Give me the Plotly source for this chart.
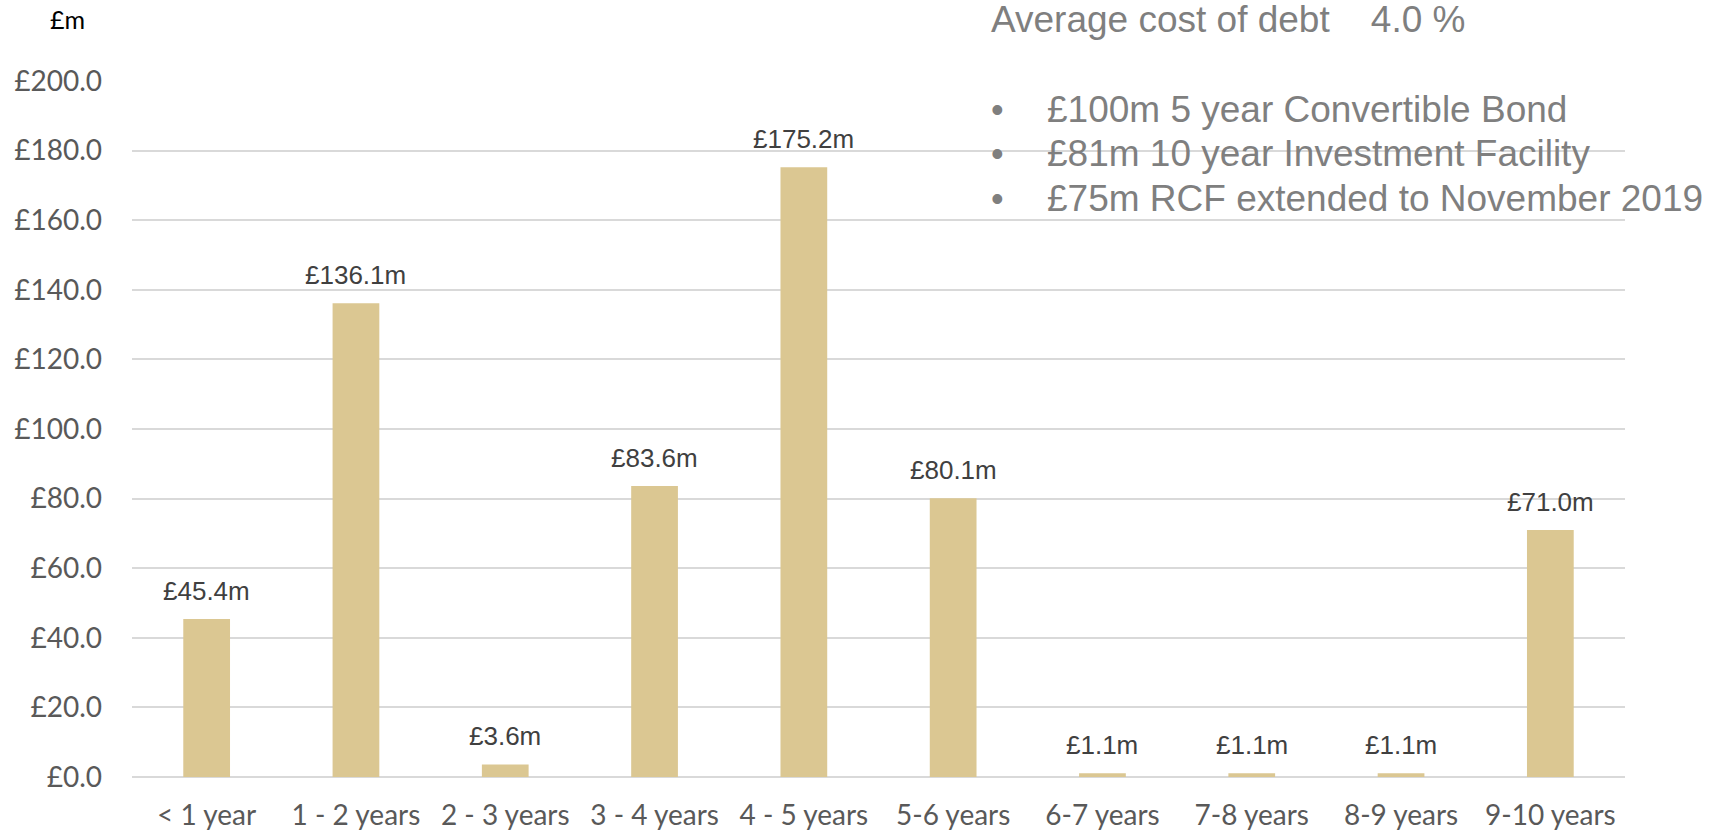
import plotly.graph_objects as go

# Debt maturity profile (£m)
categories = ["< 1 year", "1 - 2 years", "2 - 3 years", "3 - 4 years", "4 - 5 years",
              "5-6 years", "6-7 years", "7-8 years", "8-9 years", "9-10 years"]
values = [45.4, 136.1, 3.6, 83.6, 175.2, 80.1, 1.1, 1.1, 1.1, 71.0]
y_ticks = [0, 20, 40, 60, 80, 100, 120, 140, 160, 180, 200]
facility_notes = ["£100m 5 year Convertible Bond",
                  "£81m 10 year Investment Facility",
                  "£75m RCF extended to November 2019"]
cost_of_debt = 4.0

BAR = "#DBC792"
GRID = "#D9D9D9"
NOTE = "#7F7F7F"
AXIS_FONT = "Lato, Open Sans, sans-serif"
ARIAL = "Liberation Sans, Arial, sans-serif"

W, H = 1727, 834
L, R, T, B = 132, 102, 81, 57
pw, ph = W - L - R, H - T - B


def px(x, y):
    """Pixel position on the page -> paper coordinates."""
    return (x - L) / pw, 1 - (y - T) / ph


fig = go.Figure()
fig.add_trace(go.Bar(
    x=categories, y=values, width=0.313,
    marker=dict(color=BAR, line=dict(width=0)),
    hoverinfo="skip",
))

# value labels above bars
for c, v in zip(categories, values):
    fig.add_annotation(x=c, y=v, text=f"£{v:.1f}m", showarrow=False,
                       yanchor="bottom", yshift=11,
                       font=dict(family=ARIAL, size=26, color="#404040"))

# unit label
ux, uy = px(67, 19)
fig.add_annotation(x=ux, y=uy, xref="paper", yref="paper", text="£m", showarrow=False,
                   xanchor="center", yanchor="middle",
                   font=dict(family=AXIS_FONT, size=25, color="#000000"))

# side notes
ax_, ay_ = px(989, 20)
fig.add_annotation(x=ax_, y=ay_, xref="paper", yref="paper", xanchor="left", yanchor="middle",
                   text=f"Average cost of debt    {cost_of_debt:.1f} %", showarrow=False,
                   font=dict(family=ARIAL, size=37, color=NOTE))
for i, note in enumerate(facility_notes):
    y_px = 109 + i * 44.5
    bx, by = px(997, y_px)
    fig.add_annotation(x=bx, y=by, xref="paper", yref="paper", xanchor="center", yanchor="middle",
                       text="•", showarrow=False,
                       font=dict(family=ARIAL, size=36, color=NOTE))
    tx, ty = px(1045, y_px)
    fig.add_annotation(x=tx, y=ty, xref="paper", yref="paper", xanchor="left", yanchor="middle",
                       text=note, showarrow=False,
                       font=dict(family=ARIAL, size=37, color=NOTE))

fig.update_layout(
    width=W, height=H,
    margin=dict(l=L, r=R, t=T, b=B, pad=0),
    paper_bgcolor="white", plot_bgcolor="white",
    showlegend=False,
    xaxis=dict(showgrid=False, showline=False, zeroline=False, ticks="",
               automargin=False,
               tickfont=dict(family=AXIS_FONT, size=28, color="#595959"),
               ticklabelstandoff=19),
    yaxis=dict(range=[0, 200], tickvals=y_ticks,
               ticktext=[f"£{t:.1f}" for t in y_ticks],
               showgrid=True, gridcolor=GRID, gridwidth=2,
               zeroline=True, zerolinecolor=GRID, zerolinewidth=2,
               showline=False, ticks="", automargin=False,
               tickfont=dict(family=AXIS_FONT, size=28, color="#595959"),
               ticklabelstandoff=29),
)

fig.write_html("out.html")
